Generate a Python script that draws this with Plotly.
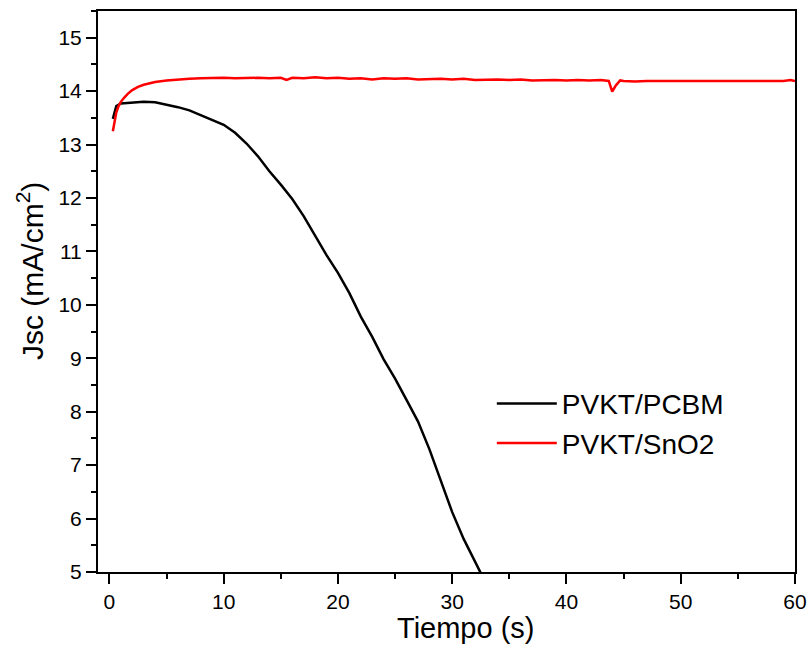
import plotly.graph_objects as go

# ---- data ----
t_pcbm = [0.3, 0.45, 0.6, 1.0, 1.5, 2.0, 3.0, 4.0, 5.0, 6.0, 7.0, 8.0, 9.0, 10.0,
          11.0, 12.0, 13.0, 14.0, 15.0, 16.0, 17.0, 18.0, 19.0, 20.0, 21.0, 22.0,
          23.0, 24.0, 25.0, 26.0, 27.0, 28.0, 29.0, 30.0, 31.0, 32.0, 32.5]
j_pcbm = [13.48, 13.62, 13.72, 13.77, 13.78, 13.79, 13.80, 13.79, 13.75, 13.70,
          13.64, 13.55, 13.46, 13.37, 13.22, 13.02, 12.78, 12.50, 12.25, 11.98,
          11.66, 11.30, 10.93, 10.60, 10.22, 9.78, 9.40, 8.98, 8.62, 8.22, 7.82,
          7.30, 6.70, 6.12, 5.62, 5.20, 4.98]

t_sno2 = [0.3, 0.45, 0.6, 0.8, 1.0, 1.3, 1.6, 2.0, 2.5, 3.0, 3.5, 4.0, 5.0, 6.0,
          7.0, 8.0, 9.0, 10.0, 11.0, 12.0, 13.0, 14.0, 15.0, 15.5, 16.0, 17.0,
          18.0, 19.0, 20.0, 21.0, 22.0, 23.0, 24.0, 25.0, 26.0, 27.0, 28.0, 29.0,
          30.0, 31.0, 32.0, 33.0, 34.0, 35.0, 36.0, 37.0, 38.0, 39.0, 40.0, 41.0,
          42.0, 43.0, 43.7, 44.0, 44.3, 44.7, 45.0, 46.0, 47.0, 48.0, 49.0, 50.0,
          51.0, 52.0, 53.0, 54.0, 55.0, 56.0, 57.0, 58.0, 59.0, 59.6, 60.0]
j_sno2 = [13.25, 13.45, 13.60, 13.72, 13.80, 13.88, 13.95, 14.02, 14.08, 14.12,
          14.15, 14.17, 14.20, 14.22, 14.23, 14.24, 14.25, 14.25, 14.24, 14.25,
          14.25, 14.24, 14.25, 14.21, 14.25, 14.24, 14.26, 14.24, 14.25, 14.23,
          14.24, 14.22, 14.24, 14.23, 14.24, 14.22, 14.23, 14.23, 14.22, 14.23,
          14.21, 14.22, 14.22, 14.21, 14.22, 14.20, 14.21, 14.21, 14.20, 14.21,
          14.20, 14.21, 14.19, 13.99, 14.10, 14.20, 14.19, 14.18, 14.19, 14.19,
          14.18, 14.19, 14.19, 14.18, 14.19, 14.19, 14.18, 14.19, 14.19, 14.19,
          14.19, 14.21, 14.19]

series_names = ["PVKT/PCBM", "PVKT/SnO2"]
x_ticks = [0, 10, 20, 30, 40, 50, 60]
y_ticks = [5, 6, 7, 8, 9, 10, 11, 12, 13, 14, 15]
x_title = "Tiempo (s)"
y_title = "Jsc (mA/cm<sup>2</sup>)"

FONT = "Liberation Sans, Arial, sans-serif"

fig = go.Figure()
fig.add_trace(go.Scatter(x=t_pcbm, y=j_pcbm, mode="lines", name=series_names[0],
                         line=dict(color="#000000", width=2.5)))
fig.add_trace(go.Scatter(x=t_sno2, y=j_sno2, mode="lines", name=series_names[1],
                         line=dict(color="#ff0000", width=2.5)))

axis_common = dict(
    showline=True, linecolor="black", linewidth=2, mirror=True,
    ticks="outside", ticklen=10, tickwidth=2, tickcolor="black",
    showgrid=False, zeroline=False, automargin=False,
    tickfont=dict(family=FONT, size=21, color="black"),
)

fig.update_xaxes(range=[-1, 60], tickvals=x_ticks,
                 minor=dict(ticks="outside", ticklen=5, tickwidth=2, tickcolor="black", dtick=5, tick0=0),
                 **axis_common)
fig.update_yaxes(range=[5, 15.5], tickvals=y_ticks,
                 minor=dict(ticks="outside", ticklen=5, tickwidth=2, tickcolor="black", dtick=0.5, tick0=0),
                 **axis_common)

# axis titles (offset from centre as in the reference)
fig.add_annotation(text=x_title, xref="paper", yref="paper", x=0.528, y=0,
                   xanchor="center", yanchor="middle", yshift=-56, showarrow=False,
                   font=dict(family=FONT, size=29, color="black"))
fig.add_annotation(text=y_title, xref="paper", yref="paper", x=0, y=0.5365,
                   xanchor="center", yanchor="middle", xshift=-68, textangle=-90,
                   showarrow=False, font=dict(family=FONT, size=30, color="black"))

fig.update_layout(
    width=810, height=646,
    margin=dict(l=98, r=15, t=11, b=74),
    paper_bgcolor="white", plot_bgcolor="white",
    showlegend=True,
    legend=dict(x=0.565, y=0.265, xanchor="left", yanchor="middle",
                bgcolor="rgba(0,0,0,0)", font=dict(family=FONT, size=28, color="black"),
                itemwidth=60),
)

fig.write_html("out.html", config={"displayModeBar": False},
               post_script="document.body.style.margin='0';document.body.style.overflow='hidden';")
